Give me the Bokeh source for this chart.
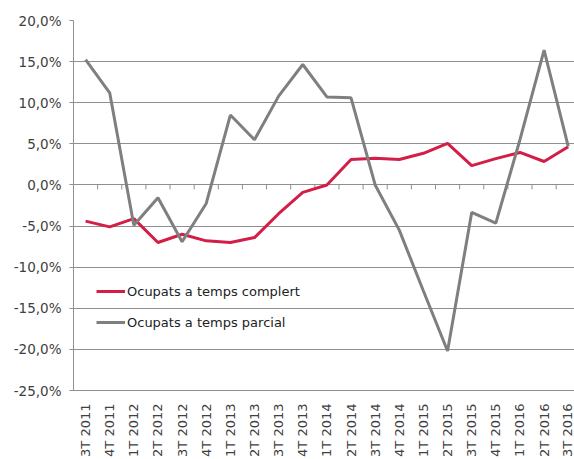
import math
from bokeh.plotting import figure
from bokeh.models import FixedTicker, LinearAxis, Range1d, Legend, LegendItem
from bokeh.embed import file_html
from bokeh.resources import INLINE

quarters = ["3T 2011", "4T 2011", "1T 2012", "2T 2012", "3T 2012", "4T 2012",
            "1T 2013", "2T 2013", "3T 2013", "4T 2013", "1T 2014", "2T 2014",
            "3T 2014", "4T 2014", "1T 2015", "2T 2015", "3T 2015", "4T 2015",
            "1T 2016", "2T 2016", "3T 2016"]
complert = [-4.4, -5.1, -4.1, -7.0, -6.0, -6.8, -7.0, -6.4, -3.5, -0.9, 0.0, 3.1,
            3.25, 3.1, 3.85, 5.05, 2.35, 3.2, 3.95, 2.85, 4.65]
parcial = [15.25, 11.2, -4.9, -1.55, -6.9, -2.25, 8.5, 5.5, 10.8, 14.65, 10.7, 10.6,
           0.0, -5.5, -12.9, -20.2, -3.35, -4.65, 5.5, 16.4, 4.7]
y_ticks = [-25, -20, -15, -10, -5, 0, 5, 10, 15, 20]

names = ["Ocupats a temps complert", "Ocupats a temps parcial"]
colors = ["#d31f48", "#7f7f7f"]
FONT = "DejaVu Sans"
TXT = "#404040"
GRID = "#8f8f8f"

n = len(quarters)
xs = list(range(n))

p = figure(width=574, height=459, output_backend="svg", toolbar_location=None,
           x_range=Range1d(-0.5, 20.26), y_range=Range1d(-25, 20),
           x_axis_location=None, y_axis_location=None,
           min_border_left=73, min_border_right=0, min_border_top=20,
           min_border_bottom=68)
p.outline_line_color = None
p.background_fill_color = "white"
p.border_fill_color = "white"

# y axis
yax = LinearAxis(ticker=FixedTicker(ticks=y_ticks))
yax.major_label_overrides = {t: ("%.1f%%" % t).replace(".", ",") for t in y_ticks}
yax.axis_line_color = GRID
yax.major_tick_line_color = GRID
yax.major_tick_in = 0
yax.major_tick_out = 4
yax.minor_tick_line_color = None
yax.major_label_standoff = 8
yax.major_label_text_font = FONT
yax.major_label_text_font_size = "13.5px"
yax.major_label_text_color = TXT
p.add_layout(yax, "left")

# x axis (category labels)
xax = LinearAxis(ticker=FixedTicker(ticks=xs))
xax.major_label_overrides = {i: q for i, q in enumerate(quarters)}
xax.major_label_orientation = math.pi / 2
xax.axis_line_color = GRID
xax.major_tick_line_color = None
xax.minor_tick_line_color = None
xax.major_label_standoff = 7
xax.major_label_text_font = FONT
xax.major_label_text_font_size = "13px"
xax.major_label_text_color = TXT
p.add_layout(xax, "below")

p.ygrid.ticker = FixedTicker(ticks=y_ticks)
p.ygrid.grid_line_color = GRID
p.ygrid.grid_line_width = 1
p.xgrid.grid_line_color = None

# zero axis with category-boundary ticks
bounds = [i + 0.5 for i in range(n - 1)]
p.segment(x0=bounds, y0=[0] * len(bounds), x1=bounds, y1=[-0.55] * len(bounds),
          line_color=GRID, line_width=1)

r1 = p.line(xs, complert, line_color=colors[0], line_width=3)
r2 = p.line(xs, parcial, line_color=colors[1], line_width=3)

legend = Legend(items=[LegendItem(label=names[0], renderers=[r1]),
                       LegendItem(label=names[1], renderers=[r2])],
                location=(23, 58), orientation="vertical")
legend.background_fill_alpha = 0
legend.border_line_color = None
legend.padding = 0
legend.margin = 0
legend.spacing = 11
legend.glyph_width = 29
legend.glyph_height = 20
legend.label_height = 20
legend.label_standoff = 2
legend.label_text_font = FONT
legend.label_text_font_size = "13px"
legend.label_text_color = "#222222"
p.add_layout(legend, "center")

open("out.html", "w").write(file_html(p, INLINE))
